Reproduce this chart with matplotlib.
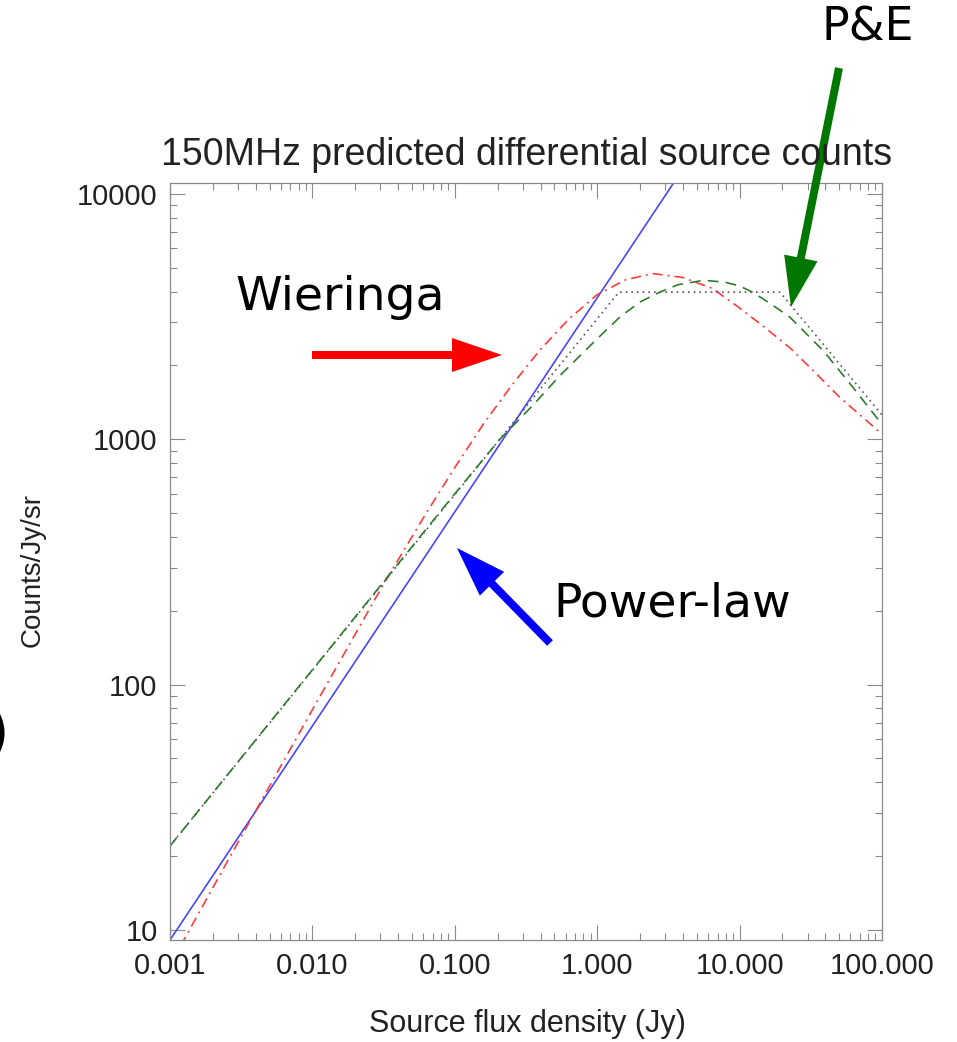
import numpy as np
import matplotlib
matplotlib.use("Agg")
from matplotlib import pyplot as plt
from matplotlib import ticker
from matplotlib.patches import FancyArrow
from matplotlib.transforms import IdentityTransform

# values
powerlaw_s = [0.001, 100.0]
powerlaw_n = [9.1, 2.1e5]

wieringa_s = [0.001, 0.00316, 0.01, 0.0316, 0.0631, 0.1, 0.158, 0.251,
              0.398, 0.631, 1.0, 1.585, 2.45, 3.98, 6.46, 10.0, 14.8, 22.4,
              31.6, 50.7, 100.0]
wieringa_n = [7.2, 24, 79, 257, 501, 767, 1150, 1660,
              2320, 3090, 3890, 4470, 4740, 4570, 4120, 3430, 2880, 2370,
              1950, 1480, 1050]

pe_s = [0.001, 0.01, 0.0133, 0.1, 0.207, 0.355, 0.548, 1.0, 1.45, 2.0,
        2.75, 3.7, 5.6, 7.9, 10.0, 12.3, 15.8, 22.4, 38.9, 63.0, 100.0]
pe_n = [22, 115, 141, 600, 1000, 1380, 1820, 2570, 3160, 3630,
        3980, 4270, 4450, 4370, 4220, 3980, 3630, 3160, 2290, 1620, 1150]

broken_s = [0.001, 1.42, 19.2, 100.0]
broken_n = [22, 3980, 3980, 1257]

xticks = [0.001, 0.01, 0.1, 1.0, 10.0, 100.0]
yticks = [10, 100, 1000, 10000]

W, H = 957, 1042
fig = plt.figure(figsize=(W / 100, H / 100), dpi=100)
ax = fig.add_axes([170 / W, 1 - 940 / H, 712 / W, 757 / H])

ax.plot(powerlaw_s, powerlaw_n, color="#4646ff", lw=1.2)
ax.plot(wieringa_s, wieringa_n, color="#ff3c3c", lw=1.2, dashes=(6, 3, 1.2, 3))
ax.plot(broken_s, broken_n, color="#555555", lw=1.2, dashes=(1, 2.4))
ax.plot(pe_s, pe_n, color="#2e7d2e", lw=1.2, dashes=(6.5, 4.3))

ax.set_xscale("log")
ax.set_yscale("log")
ax.set_xlim(0.001, 100)
ax.set_ylim(9.1, 11090)

tick_font = dict(family="Liberation Sans", size=21)
ax.set_xticks(xticks)
ax.set_xticklabels(["%.3f" % v for v in xticks], **tick_font, color="#222222")
ax.set_yticks(yticks)
ax.set_yticklabels(["%d" % v for v in yticks], **tick_font, color="#222222")
for axis in (ax.xaxis, ax.yaxis):
    axis.set_minor_locator(ticker.LogLocator(base=10, subs=np.arange(2, 10)))
    axis.set_minor_formatter(ticker.NullFormatter())
ax.tick_params(which="both", direction="in", top=True, right=True,
               color="#8a8a8a", width=0.8, pad=9)
ax.tick_params(which="major", length=10.8)
ax.tick_params(which="minor", length=5)
for sp in ax.spines.values():
    sp.set_color("#8a8a8a")
    sp.set_linewidth(0.9)

fig.text(527 / W, 1 - 165 / H, "150MHz predicted differential source counts",
         family="Liberation Sans", size=27, color="#222222",
         ha="center", va="baseline")
fig.text(527 / W, 1 - 1024 / H, "Source flux density (Jy)",
         family="Liberation Sans", size=22, color="#222222",
         ha="center", va="center")
fig.text(33 / W, 1 - 570 / H, "Counts/Jy/sr", family="Liberation Sans",
         size=20, color="#222222", rotation=90, ha="center", va="center")

# annotations
fig.text(340 / W, 1 - 297 / H, "Wieringa", size=34, ha="center", va="center")
fig.text(672 / W, 1 - 604 / H, "Power-law", size=34, ha="center", va="center")
fig.text(868 / W, 1 - 28 / H, "P&E", size=33, ha="center", va="center")
# fragment of a glyph cut by the left edge of the original picture
fig.text(9 / W, 1 - 736 / H, ")", size=44, ha="right", va="center")


def arrow(x0, y0, x1, y1, color):
    a = FancyArrow(x0, H - y0, x1 - x0, -(y1 - y0), width=8, head_width=34,
                   head_length=50, length_includes_head=True, color=color,
                   lw=0, transform=IdentityTransform())
    fig.patches.append(a)


arrow(312, 355, 502, 355, "#ff0000")
arrow(550, 643, 457, 548, "#0000ff")
arrow(839, 68, 791, 307, "#007700")

fig.savefig("out.png", dpi=100)
